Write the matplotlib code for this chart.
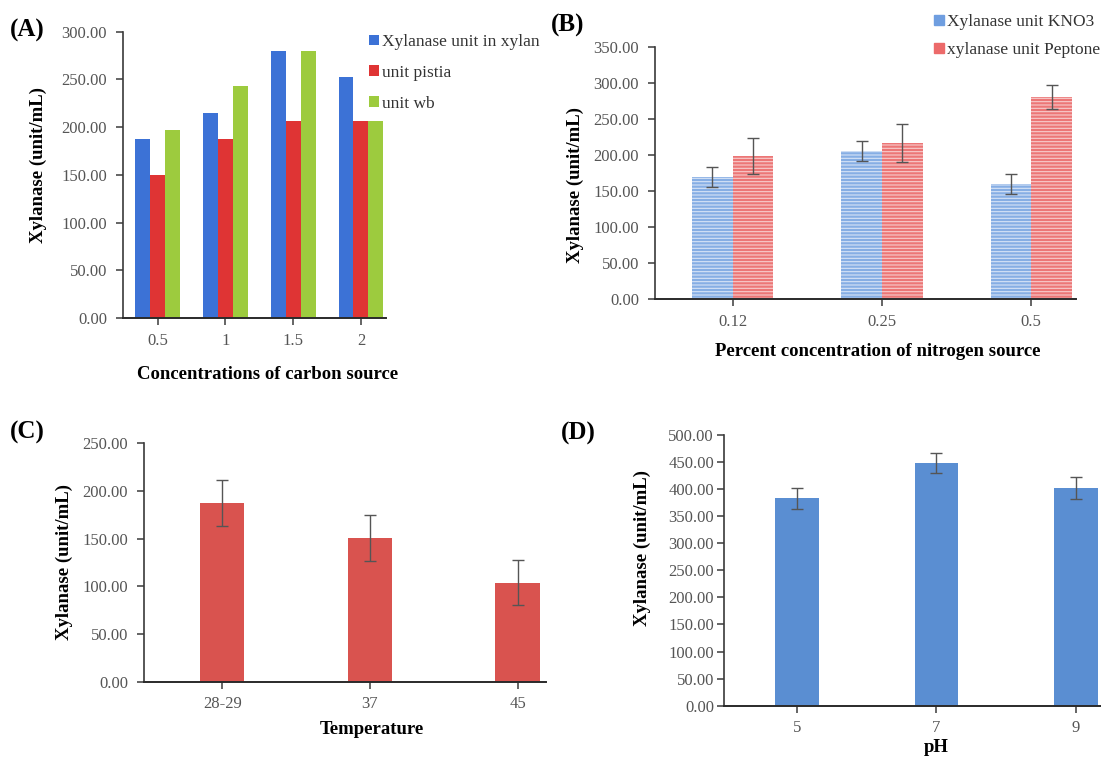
import matplotlib
matplotlib.use('Agg')
import matplotlib.pyplot as plt
import numpy as np
from matplotlib.patches import Patch

plt.rcParams['font.family'] = ['Liberation Serif', 'DejaVu Serif']
plt.rcParams['hatch.linewidth'] = 0.8

# ---------------- data ----------------
# (A) carbon source
a_cats = ['0.5', '1', '1.5', '2']
a_xylan = [188, 215, 280, 253]
a_pistia = [150, 188, 206, 206]
a_wb = [197, 243, 280, 206]
a_labels = ['Xylanase unit in xylan', 'unit pistia', 'unit wb']

# (B) nitrogen source
b_cats = ['0.12', '0.25', '0.5']
b_kno3 = [170, 206, 160]
b_kno3_err = [14, 14, 14]
b_pep = [199, 217, 281]
b_pep_err = [25, 26, 16]
b_labels = ['Xylanase unit KNO3', 'xylanase unit Peptone']

# (C) temperature
c_cats = ['28-29', '37', '45']
c_vals = [187, 151, 104]
c_err = [24, 24, 24]

# (D) pH
d_cats = ['5', '7', '9']
d_vals = [383, 448, 402]
d_err = [20, 19, 20]

W, H = 1101, 763
fig = plt.figure(figsize=(W / 100, H / 100), dpi=100)


def px_axes(left, right, top, bottom):
    return fig.add_axes([left / W, 1 - bottom / H, (right - left) / W, (bottom - top) / H])


def style(ax, ymax, ystep, ypad=6.5):
    for s in ['top', 'right']:
        ax.spines[s].set_visible(False)
    ax.spines['left'].set_color('#3a3a3a')
    ax.spines['bottom'].set_color('#2a2a2a')
    ax.spines['left'].set_linewidth(1.2)
    ax.spines['bottom'].set_linewidth(1.4)
    ax.set_ylim(0, ymax)
    ax.set_yticks(np.arange(0, ymax + 0.1, ystep))
    ax.set_yticklabels([f'{v:.2f}' for v in np.arange(0, ymax + 0.1, ystep)])
    ax.tick_params(axis='both', labelsize=12, labelcolor='#555555', color='#3a3a3a',
                   length=5, width=1.1, direction='out')
    ax.tick_params(axis='y', pad=ypad)
    ax.tick_params(axis='x', pad=5.5)


ylab = 'Xylanase (unit/mL)'
lab_kw = dict(fontsize=13.5, fontweight='bold', color='black')
err_kw = dict(ecolor='#555555', elinewidth=1.0, capsize=4, capthick=1.0)
leg_kw = dict(bbox_transform=fig.transFigure, frameon=False, fontsize=12.5, handlelength=0.55,
              handleheight=0.55, handletextpad=0.2, borderaxespad=0, borderpad=0,
              labelcolor='#333333', loc='upper left')

# ---------------- (A) ----------------
axA = px_axes(123, 386, 31.7, 318)
x = np.arange(len(a_cats))
w = 0.22
axA.bar(x - w, a_xylan, w, color='#3c72d6', label=a_labels[0])
axA.bar(x, a_pistia, w, color='#df3434', label=a_labels[1])
axA.bar(x + w, a_wb, w, color='#9dcb3e', label=a_labels[2])
axA.set_xticks(x)
axA.set_xticklabels(a_cats)
axA.set_xlim(-0.51, 3.37)
style(axA, 300, 50)
axA.legend(bbox_to_anchor=(369 / W, 1 - 34 / H), labelspacing=0.85, **leg_kw)
fig.text(38 / W, 1 - 165 / H, ylab, rotation=90, ha='center', va='center', **lab_kw)
fig.text(268 / W, 1 - 374 / H, 'Concentrations of carbon source', ha='center', va='center', **lab_kw)
fig.text(10 / W, 1 - 30 / H, '(A)', ha='left', va='center', fontsize=18, fontweight='bold')

# ---------------- (B) ----------------
axB = px_axes(655, 1076, 47.3, 299.3)
x = np.arange(len(b_cats))
w = 0.272
axB.bar(x - w / 2, b_kno3, w, color='#86aee4', edgecolor='#d6e3f6', linewidth=0, hatch='-----',
        label=b_labels[0])
axB.bar(x + w / 2, b_pep, w, color='#ec7676', edgecolor='#f8cccc', linewidth=0, hatch='-----',
        label=b_labels[1])
axB.errorbar(x - w / 2, b_kno3, yerr=b_kno3_err, fmt='none', **err_kw)
axB.errorbar(x + w / 2, b_pep, yerr=b_pep_err, fmt='none', **err_kw)
axB.set_xticks(x)
axB.set_xticklabels(b_cats)
axB.set_xlim(-0.52, 2.30)
style(axB, 350, 50)
hB = [Patch(color='#6f9ee0'), Patch(color='#ec6a6a')]
axB.legend(hB, b_labels, bbox_to_anchor=(934 / W, 1 - 14 / H), labelspacing=0.7, **leg_kw)
fig.text(575 / W, 1 - 185 / H, ylab, rotation=90, ha='center', va='center', **lab_kw)
fig.text(878 / W, 1 - 352 / H, 'Percent concentration of nitrogen source', ha='center', va='center',
         **lab_kw)
fig.text(551 / W, 1 - 25 / H, '(B)', ha='left', va='center', fontsize=18, fontweight='bold')

# ---------------- (C) ----------------
axC = px_axes(144, 545.6, 443.3, 681.7)
x = np.arange(len(c_cats))
axC.bar(x, c_vals, 0.30, color='#d9534f')
axC.errorbar(x, c_vals, yerr=c_err, fmt='none', **err_kw)
axC.set_xticks(x)
axC.set_xticklabels(c_cats)
axC.set_xlim(-0.53, 2.19)
style(axC, 250, 50)
fig.text(64 / W, 1 - 562 / H, ylab, rotation=90, ha='center', va='center', **lab_kw)
fig.text(372 / W, 1 - 729 / H, 'Temperature', ha='center', va='center', **lab_kw)
fig.text(10 / W, 1 - 432 / H, '(C)', ha='left', va='center', fontsize=18, fontweight='bold')

# ---------------- (D) ----------------
axD = px_axes(724.4, 1101, 435, 705.7)
x = np.arange(len(d_cats))
axD.bar(x, d_vals, 0.31, color='#5a8ed2')
axD.errorbar(x, d_vals, yerr=d_err, fmt='none', **err_kw)
axD.set_xticks(x)
axD.set_xticklabels(d_cats)
axD.set_xlim(-0.52, 2.18)
style(axD, 500, 50, ypad=2.5)
fig.text(642 / W, 1 - 548 / H, ylab, rotation=90, ha='center', va='center', **lab_kw)
fig.text(936 / W, 1 - 748 / H, 'pH', ha='center', va='center', **lab_kw)
fig.text(561 / W, 1 - 433 / H, '(D)', ha='left', va='center', fontsize=18, fontweight='bold')

fig.savefig('out.png', dpi=100)
